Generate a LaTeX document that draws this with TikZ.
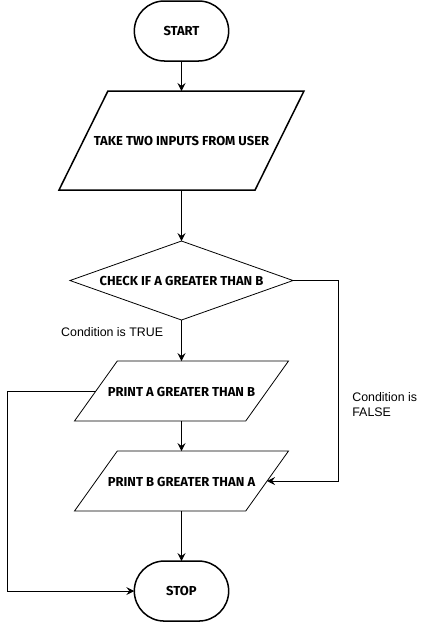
\documentclass[tikz,border=0pt]{standalone}
\usepackage{fontspec}
\setmainfont{Liberation Sans}
\newfontfamily\boxfont{Fira Sans}
\usetikzlibrary{shapes.geometric, shapes.misc, positioning, arrows.meta}

\begin{document}
\begin{tikzpicture}[x=1pt, y=-1pt, outer sep=0pt,
	box/.style={draw, font=\boxfont\bfseries\fontsize{13}{15}\selectfont},
	terminal/.style={box, rounded rectangle, line width=1.5pt, minimum width=101pt, minimum height=60pt},
	io/.style={box, trapezium, trapezium stretches body=true, text height=10pt, text depth=0pt, inner xsep=-20pt, line width=0.8pt},
	decision/.style={box, diamond, aspect=2.8, line width=0.8pt, minimum width=223pt, minimum height=79pt},
	lbl/.style={font=\fontsize{12.4}{15}\selectfont},
	flow/.style={draw, line width=0.8pt, -{Stealth[length=8pt, width=8pt, inset=3pt]}}]

	\useasboundingbox (0,0) rectangle (432,622);
	\coordinate (lft) at (7,0);
	\coordinate (rgt) at (338,0);

	\node[terminal] (start) at (181.5,31) {START};
	\node[io, line width=1.5pt, below=30pt of start, trapezium left angle=63.7, trapezium right angle=116.3, inner ysep=44.5pt, minimum width=245pt] (in1) {TAKE TWO INPUTS FROM USER};
	\node[decision, below=51pt of in1] (chk) {CHECK IF A GREATER THAN B};
	\node[io, below=41pt of chk, trapezium left angle=54.5, trapezium right angle=125.5, inner ysep=25pt, minimum width=214pt] (prA) {PRINT A GREATER THAN B};
	\node[io, below=30pt of prA, trapezium left angle=54.5, trapezium right angle=125.5, inner ysep=25pt, minimum width=214pt] (prB) {PRINT B GREATER THAN A};
	\node[terminal, below=50pt of prB] (stop) {STOP};

	\draw[flow]
	(start) edge (in1)
	(in1) edge (chk)
	(chk) edge node[lbl, pos=0.3, left=15pt] {Condition is TRUE} (prA)
	(prA) edge (prB)
	(prB) edge (stop);
	\draw[flow] (chk.east) -- (chk.east -| rgt) |- node[lbl, pos=0.31, right=11pt, align=left] {Condition is\\FALSE} (prB.east);
	\draw[flow] (prA.west) -- (prA.west -| lft) |- (stop.west);

\end{tikzpicture}
\end{document}
